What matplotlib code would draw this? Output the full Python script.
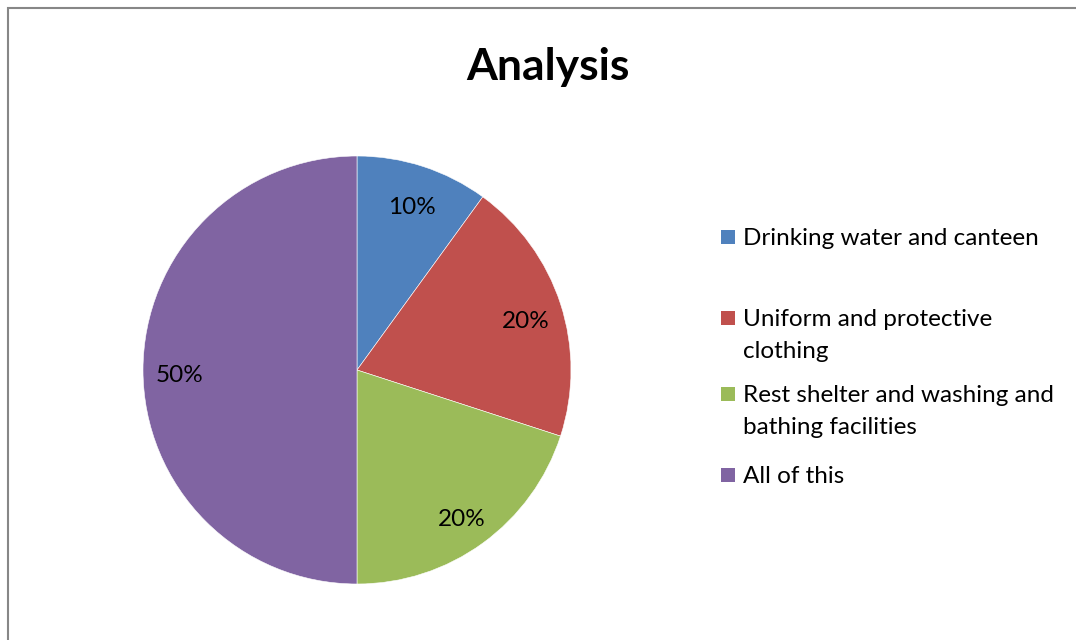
import matplotlib
matplotlib.use("Agg")
import matplotlib.pyplot as plt
from matplotlib.patches import Rectangle

plt.rcParams['font.family'] = ['Lato', 'DejaVu Sans']

categories = ["Drinking water and canteen",
              "Uniform and protective\nclothing",
              "Rest shelter and washing and\nbathing facilities",
              "All of this"]
shares = [10, 20, 20, 50]
colors = ["#4F81BD", "#C0504D", "#9BBB59", "#8064A2"]

W, H = 1076, 640
fig = plt.figure(figsize=(W / 100, H / 100), dpi=100)

# outer chart frame
fig.patches.append(Rectangle((8 / W, -0.1), 1.2, (H - 8) / H + 0.1,
                             transform=fig.transFigure, fill=False,
                             edgecolor="#878787", linewidth=1.5))

cx, cy, r = 357, H - 370, 214
ax = fig.add_axes([(cx - r) / W, (cy - r) / H, 2 * r / W, 2 * r / H])
wedges, _, autotexts = ax.pie(shares, colors=colors, startangle=90, counterclock=False,
                              autopct="%d%%", pctdistance=0.83,
                              wedgeprops=dict(edgecolor="white", linewidth=0.4),
                              textprops=dict(fontsize=17.5, color="black"))
# nudge percentage labels down a little
for t in autotexts:
    x, y = t.get_position()
    t.set_position((x, y - 6 / r))
ax.set_xlim(-1, 1)
ax.set_ylim(-1, 1)
ax.set_aspect("equal")

fig.text(548 / W, 1 - 67 / H, "Analysis", ha="center", va="center",
         fontsize=32, fontweight="bold")

# legend drawn by hand, entries spaced like the original layout
first_line = [237, 318, 394, 475]
for label, color, yc in zip(categories, colors, first_line):
    fig.patches.append(Rectangle((721 / W, 1 - (yc + 7) / H), 14 / W, 14 / H,
                                 transform=fig.transFigure, facecolor=color,
                                 edgecolor="none"))
    fig.text(743 / W, 1 - (yc - 9) / H, label, ha="left", va="top", fontsize=17.5,
             linespacing=1.62, transform=fig.transFigure)

fig.savefig("out.png", dpi=100)
